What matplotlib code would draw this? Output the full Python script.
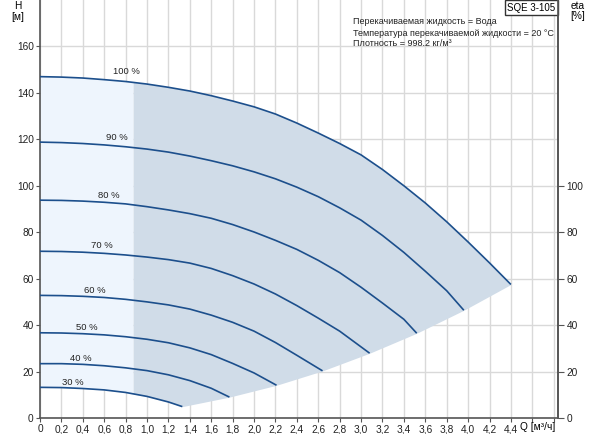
import numpy as np
import matplotlib
matplotlib.use("Agg")
import matplotlib.pyplot as plt

plt.rcParams['font.family'] = ['Liberation Sans', 'DejaVu Sans']

# speed curves (Q in m3/h, H in m)
q100 = [0.0, 0.2, 0.4, 0.6, 0.8, 1.0, 1.2, 1.4, 1.6, 1.8, 2.0, 2.2, 2.4, 2.6, 2.8, 3.0, 3.2, 3.4, 3.6, 3.8, 4.0, 4.2, 4.4]
h100 = [147.0, 146.8, 146.4, 145.7, 144.9, 143.8, 142.4, 140.8, 138.8, 136.5, 134.0, 130.9, 127.0, 122.7, 118.2, 113.3, 107.0, 100.0, 92.6, 84.5, 75.8, 66.8, 57.5]

q90 = [0.0, 0.2, 0.4, 0.6, 0.8, 1.0, 1.2, 1.4, 1.6, 1.8, 2.0, 2.2, 2.4, 2.6, 2.8, 3.0, 3.2, 3.4, 3.6, 3.8, 3.96]
h90 = [118.8, 118.6, 118.2, 117.6, 116.8, 115.8, 114.5, 112.8, 110.8, 108.6, 106.0, 103.0, 99.4, 95.3, 90.5, 85.2, 78.6, 71.3, 63.2, 54.8, 46.4]

q80 = [0.0, 0.2, 0.4, 0.6, 0.8, 1.0, 1.2, 1.4, 1.6, 1.8, 2.0, 2.2, 2.4, 2.6, 2.8, 3.0, 3.2, 3.4, 3.52]
h80 = [93.8, 93.7, 93.4, 92.9, 92.2, 91.0, 89.6, 88.0, 86.0, 83.3, 80.1, 76.5, 72.6, 67.9, 62.6, 56.3, 49.5, 42.5, 36.5]

q70 = [0.0, 0.2, 0.4, 0.6, 0.8, 1.0, 1.2, 1.4, 1.6, 1.8, 2.0, 2.2, 2.4, 2.6, 2.8, 3.08]
h70 = [71.8, 71.7, 71.4, 70.9, 70.2, 69.3, 68.2, 66.7, 64.4, 61.3, 57.7, 53.4, 48.4, 43.0, 37.4, 27.9]

q60 = [0.0, 0.2, 0.4, 0.6, 0.8, 1.0, 1.2, 1.4, 1.6, 1.8, 2.0, 2.2, 2.4, 2.64]
h60 = [52.8, 52.7, 52.4, 51.9, 51.1, 50.0, 48.7, 46.9, 44.3, 41.2, 37.4, 32.5, 27.0, 20.3]

q50 = [0.0, 0.2, 0.4, 0.6, 0.8, 1.0, 1.2, 1.4, 1.6, 1.8, 2.0, 2.21]
h50 = [36.7, 36.6, 36.3, 35.8, 35.0, 33.9, 32.4, 30.2, 27.3, 23.5, 19.4, 14.1]

q40 = [0.0, 0.2, 0.4, 0.6, 0.8, 1.0, 1.2, 1.4, 1.6, 1.77]
h40 = [23.4, 23.4, 23.1, 22.5, 21.6, 20.4, 18.6, 16.1, 12.8, 9.0]

q30 = [0.0, 0.2, 0.4, 0.6, 0.8, 1.0, 1.2, 1.33]
h30 = [13.2, 13.1, 12.7, 12.1, 11.0, 9.3, 6.9, 4.9]

speed_labels = ["100 %", "90 %", "80 %", "70 %", "60 %", "50 %", "40 %", "30 %"]
label_q = [0.81, 0.72, 0.645, 0.58, 0.515, 0.44, 0.377, 0.305]
label_h = [149.0, 121.0, 96.0, 74.1, 54.9, 38.8, 25.5, 15.4]

q_min_flow = 0.87  # start of darker operating range

xticks = [0, 0.2, 0.4, 0.6, 0.8, 1.0, 1.2, 1.4, 1.6, 1.8, 2.0, 2.2, 2.4, 2.6, 2.8, 3.0, 3.2, 3.4, 3.6, 3.8, 4.0, 4.2, 4.4, 4.6, 4.8]
h_ticks = [0, 20, 40, 60, 80, 100, 120, 140, 160]
eta_ticks = [0, 20, 40, 60, 80, 100]

info_lines = ["Перекачиваемая жидкость = Вода",
              "Температура перекачиваемой жидкости = 20 °C",
              "Плотность = 998.2 кг/м³"]

curves = [(q100, h100), (q90, h90), (q80, h80), (q70, h70),
          (q60, h60), (q50, h50), (q40, h40), (q30, h30)]

line_col = "#1c4f8c"
grid_col = "#d9d9d9"
axis_col = "#555555"

fig = plt.figure(figsize=(6.0, 4.34), dpi=100)
ax = fig.add_axes([40 / 600, 16 / 434, 518 / 600, 418 / 434])
ax.set_xlim(0, 4.84)
ax.set_ylim(0, 180)

# shaded areas
ends_q = [c[0][-1] for c in curves][::-1]
ends_h = [c[1][-1] for c in curves][::-1]
low_q = [q for q in q30 if q >= q_min_flow and q < ends_q[0]] + ends_q
low_h = [h for q, h in zip(q30, h30) if q >= q_min_flow and q < ends_q[0]] + ends_h

xs = np.linspace(0, q_min_flow, 60)
ax.fill_between(xs, np.interp(xs, q30, h30), np.interp(xs, q100, h100),
                color="#eef5fd", lw=0, zorder=1)
xs = np.linspace(q_min_flow, q100[-1], 300)
ax.fill_between(xs, np.interp(xs, [q_min_flow] + low_q, [np.interp(q_min_flow, q30, h30)] + low_h),
                np.interp(xs, q100, h100), color="#d0dce8", lw=0, zorder=1)

ax.set_xticks(xticks)
ax.set_xticklabels([("%.1f" % t).replace(".", ",") if 0 < t <= 4.4 else ("0" if t == 0 else "") for t in xticks])
ax.set_yticks(h_ticks)
ax.grid(True, color=grid_col, lw=1.0, zorder=0)
ax.set_axisbelow(True)

for (q, h) in curves:
    ax.plot(q, h, color=line_col, lw=1.2, zorder=3, solid_capstyle="butt")

for lab, lq, lh in zip(speed_labels, label_q, label_h):
    ax.text(lq, lh, lab, fontsize=6.8, ha="center", va="center", color="#222222", zorder=4)

ax.spines["top"].set_visible(False)
for side in ["left", "bottom", "right"]:
    ax.spines[side].set_color(axis_col)
    ax.spines[side].set_linewidth(1.2)
ax.tick_params(axis="both", labelsize=7.3, colors="#222222", length=3, width=0.8, pad=1.5)
ax.tick_params(axis="both", color=axis_col)

ax2 = ax.twinx()
ax2.set_ylim(0, 180)
ax2.set_yticks(eta_ticks)
ax2.tick_params(axis="y", labelsize=7.3, colors="#222222", length=4, width=0.8, pad=2)
ax2.tick_params(axis="y", color=axis_col)
for side in ["top", "left", "bottom"]:
    ax2.spines[side].set_visible(False)
ax2.spines["right"].set_color(axis_col)
ax2.spines["right"].set_linewidth(1.2)

# axis captions
fig.text(18 / 600, 1 - 6 / 434, "H", fontsize=7.3, ha="center", va="center")
fig.text(18 / 600, 1 - 17 / 434, "[м]", fontsize=7.3, ha="center", va="center")
fig.text(578 / 600, 1 - 6 / 434, "eta", fontsize=7.3, ha="center", va="center")
fig.text(578 / 600, 1 - 16 / 434, "[%]", fontsize=7.3, ha="center", va="center")
fig.text(538 / 600, 1 - 427 / 434, "Q [м³/ч]", fontsize=7.3, ha="center", va="center")

ax.text(4.815, 178.8, "SQE 3-105", fontsize=7, ha="right", va="top", zorder=5,
        bbox=dict(boxstyle="square,pad=0.25", fc="white", ec="#333333", lw=1.0))
for i, line in enumerate(info_lines):
    fig.text(353 / 600, 1 - (22 + 11 * i) / 434, line, fontsize=6.5, ha="left", va="center", color="#222222")

fig.savefig("out.png", dpi=100)
